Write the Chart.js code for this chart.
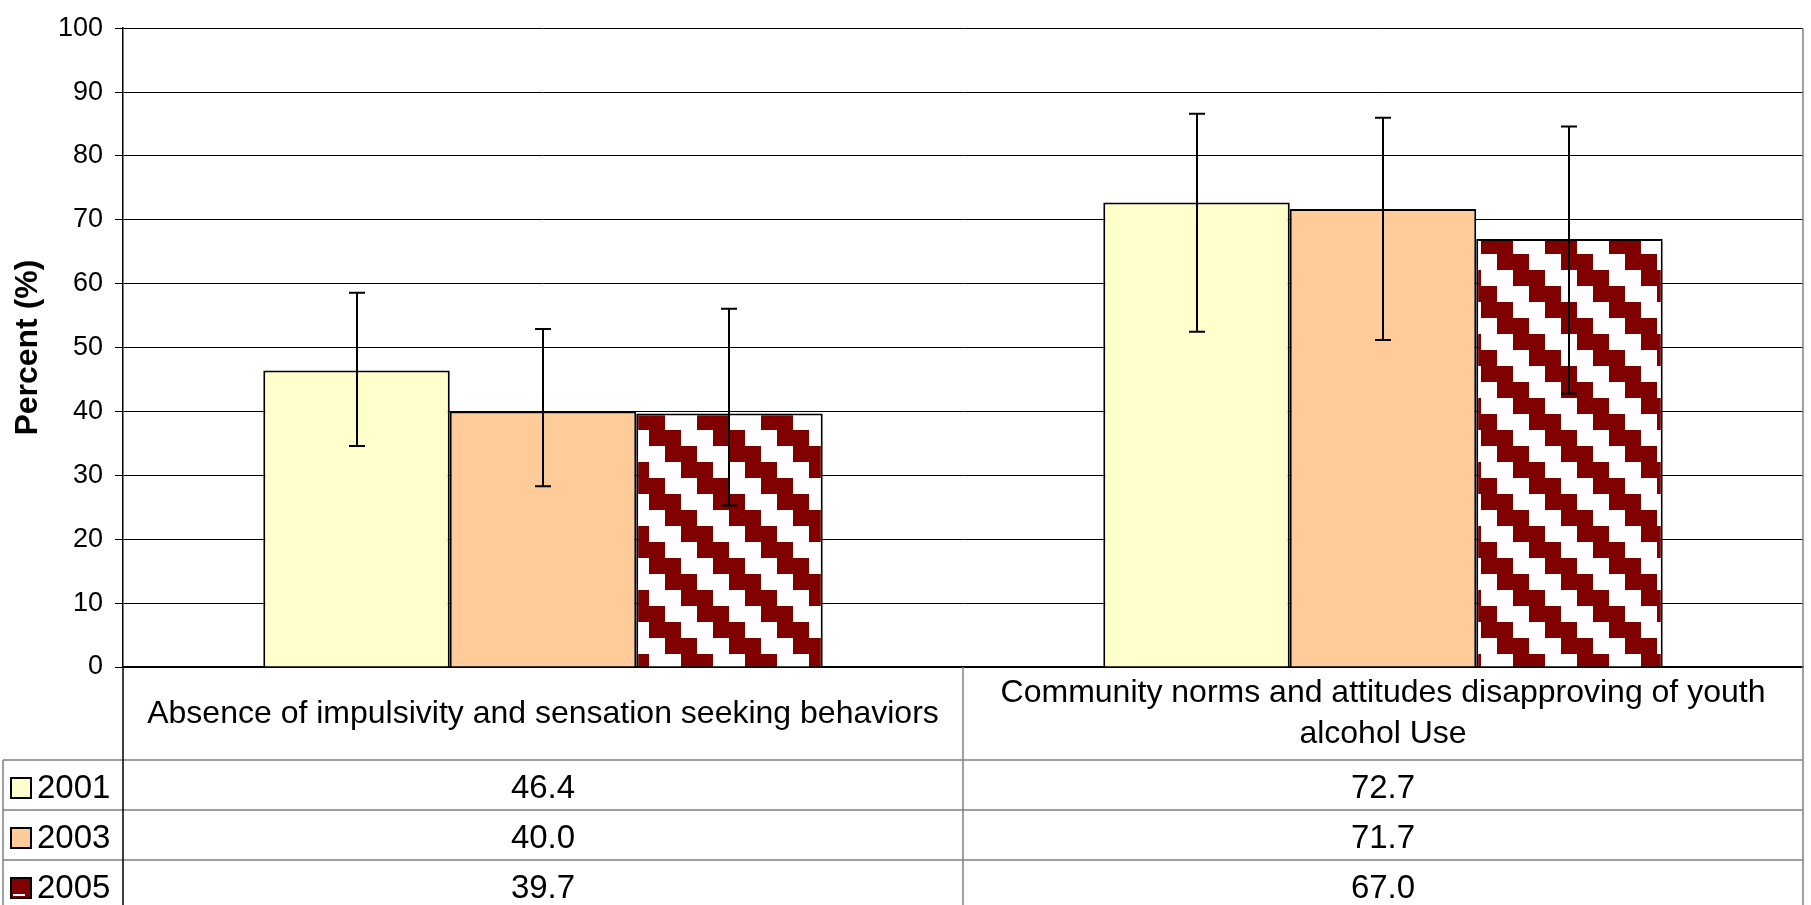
<!DOCTYPE html>
<html lang="en">
<head>
<meta charset="UTF-8">
<title>Protective factors by survey year</title>
<style>
  body { margin: 0; background: #fff; overflow: hidden; }
  canvas { display: block; }
</style>
</head>
<body>
<canvas id="chart" width="1811" height="905"></canvas>
<script src="https://cdn.jsdelivr.net/npm/chart.js"></script>
<script>
// data
const categories = [
  ['Absence of impulsivity and sensation seeking behaviors'],
  ['Community norms and attitudes disapproving of youth', 'alcohol Use']
];
const years = ['2001', '2003', '2005'];
const values2001 = [46.4, 72.7];
const values2003 = [40.0, 71.7];
const values2005 = [39.7, 67.0];
// error bar ends
const low2001 = [34.6, 52.5];
const high2001 = [58.6, 86.6];
const low2003 = [28.3, 51.2];
const high2003 = [52.9, 86.0];
const low2005 = [25.3, 42.8];
const high2005 = [56.1, 84.6];
const yTicks = [0, 10, 20, 30, 40, 50, 60, 70, 80, 90, 100];

const FONT = "'Liberation Sans', Arial, sans-serif";

// wide downward diagonal pattern (dark red / white), 16px blocks
function makePattern() {
  const c = document.createElement('canvas');
  c.width = 64; c.height = 64;
  const g = c.getContext('2d');
  g.fillStyle = '#fff';
  g.fillRect(0, 0, 64, 64);
  g.fillStyle = '#800000';
  for (let r = 0; r < 4; r++) {
    for (let k = 0; k < 2; k++) {
      const x = (16 * r + 16 * k) % 64;
      g.fillRect(x, 16 * r, 16, 16);
    }
  }
  const p = document.getElementById('chart').getContext('2d').createPattern(c, 'repeat');
  p.setTransform(new DOMMatrix([1, 0, 0, 1, 57, 30]));
  return p;
}
const pattern2005 = makePattern();

const lows = [low2001, low2003, low2005];
const highs = [high2001, high2003, high2005];

const errorBars = {
  id: 'errorBars',
  afterDatasetsDraw(chart) {
    const ctx = chart.ctx;
    const y = chart.scales.y;
    ctx.save();
    ctx.strokeStyle = '#000';
    ctx.lineWidth = 2;
    chart.data.datasets.forEach((ds, i) => {
      chart.getDatasetMeta(i).data.forEach((bar, j) => {
        const x = Math.round(bar.x);
        const top = y.getPixelForValue(highs[i][j]);
        const bot = y.getPixelForValue(lows[i][j]);
        ctx.beginPath();
        ctx.moveTo(x, top); ctx.lineTo(x, bot);
        ctx.moveTo(x - 8, top); ctx.lineTo(x + 8, top);
        ctx.moveTo(x - 8, bot); ctx.lineTo(x + 8, bot);
        ctx.stroke();
      });
    });
    ctx.restore();
  }
};

const dataTable = {
  id: 'dataTable',
  afterDraw(chart) {
    const ctx = chart.ctx;
    const area = chart.chartArea;
    const xs = chart.scales.x;
    const headBottom = area.bottom + 93;
    const rowH = 50;
    const bottom = chart.height;
    const mid = (xs.getPixelForValue(0) + xs.getPixelForValue(1)) / 2;
    ctx.save();

    // grey table lines
    ctx.strokeStyle = '#808080';
    ctx.lineWidth = 1.5;
    ctx.beginPath();
    for (let r = 0; r < 3; r++) {
      const yy = headBottom + r * rowH;
      ctx.moveTo(3, yy); ctx.lineTo(area.right, yy);
    }
    ctx.moveTo(3, headBottom); ctx.lineTo(3, bottom);
    ctx.moveTo(mid, area.bottom); ctx.lineTo(mid, bottom);
    ctx.moveTo(area.right, area.top); ctx.lineTo(area.right, bottom);
    ctx.stroke();

    // axis line continues down through the table
    ctx.strokeStyle = '#000';
    ctx.lineWidth = 1.5;
    ctx.beginPath();
    ctx.moveTo(area.left, area.bottom); ctx.lineTo(area.left, bottom);
    ctx.stroke();

    // category labels
    ctx.fillStyle = '#000';
    ctx.textAlign = 'center';
    ctx.textBaseline = 'middle';
    ctx.font = '32px ' + FONT;
    categories.forEach((lines, i) => {
      const cx = xs.getPixelForValue(i);
      const cy = area.bottom + 47;
      const lh = 41;
      lines.forEach((t, k) => {
        ctx.fillText(t, cx, cy + (k - (lines.length - 1) / 2) * lh);
      });
    });

    // legend keys and values
    ctx.font = '33px ' + FONT;
    const series = [values2001, values2003, values2005];
    const fills = ['#FFFFCC', '#FFCC99', '#800000'];
    series.forEach((vals, r) => {
      const cy = headBottom + r * rowH + rowH / 2 + 4;
      ctx.fillStyle = fills[r];
      ctx.fillRect(11, cy - 11, 20, 20);
      if (r === 2) {
        ctx.fillStyle = '#fff';
        ctx.fillRect(13, cy + 5, 12, 2);
      }
      ctx.strokeStyle = '#000';
      ctx.lineWidth = 2;
      ctx.strokeRect(11, cy - 11, 20, 20);
      ctx.fillStyle = '#000';
      ctx.textAlign = 'left';
      ctx.fillText(years[r], 37, cy);
      ctx.textAlign = 'center';
      vals.forEach((v, i) => {
        ctx.fillText(v.toFixed(1), xs.getPixelForValue(i), cy);
      });
    });
    ctx.restore();
  }
};

new Chart(document.getElementById('chart'), {
  type: 'bar',
  data: {
    labels: categories,
    datasets: [
      { label: years[0], data: values2001, backgroundColor: '#FFFFCC' },
      { label: years[1], data: values2003, backgroundColor: '#FFCC99' },
      { label: years[2], data: values2005, backgroundColor: pattern2005 }
    ]
  },
  options: {
    responsive: false,
    animation: false,
    layout: { padding: { top: 20, right: 8, left: 0, bottom: 0 } },
    datasets: {
      bar: {
        borderColor: '#000',
        borderWidth: 2,
        categoryPercentage: 0.666,
        barPercentage: 1.0
      }
    },
    scales: {
      x: {
        ticks: { display: false },
        grid: { display: false },
        border: { color: '#000', width: 1.5 },
        afterFit(scale) { scale.height = 238; }
      },
      y: {
        min: 0,
        max: 100,
        afterBuildTicks(scale) { scale.ticks = yTicks.map(v => ({ value: v })); },
        ticks: { color: '#000', padding: 12, font: { size: 27, family: FONT } },
        grid: { color: '#000', lineWidth: 1, tickLength: 8 },
        border: { color: '#000', width: 1.5 },
        title: {
          display: true,
          text: 'Percent (%)',
          color: '#000',
          font: { size: 32, weight: 'bold', family: FONT },
          padding: { top: 9, bottom: 0 }
        },
        afterFit(scale) { scale.width = 123; }
      }
    },
    plugins: {
      legend: { display: false },
      tooltip: { enabled: false }
    }
  },
  plugins: [errorBars, dataTable]
});
</script>
</body>
</html>
